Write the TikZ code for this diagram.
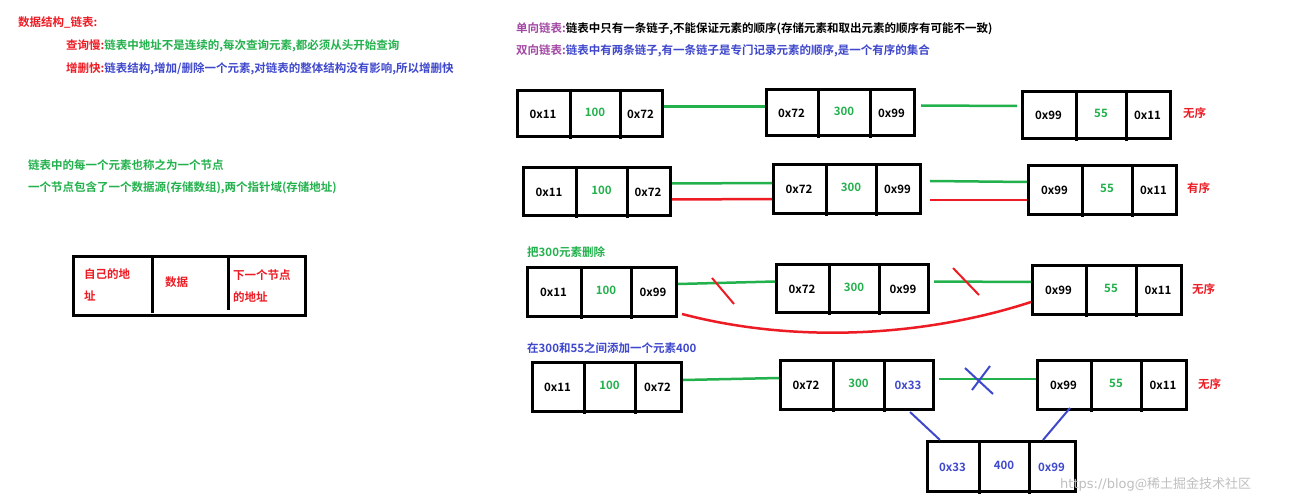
\documentclass[tikz,border=0pt]{standalone}
\usepackage{fontspec}
\newfontfamily\cjk{Noto Sans CJK SC}[BoldFont={Noto Sans CJK SC Bold}]
\usetikzlibrary{calc}
\definecolor{cr}{HTML}{ED1C24}
\definecolor{cg}{HTML}{22B14C}
\definecolor{cb}{HTML}{3F48CC}
\definecolor{cp}{HTML}{A349A4}
\tikzset{
  lbl/.style={anchor=west,inner sep=0pt,font=\cjk\bfseries\fontsize{11.5}{12}\selectfont},
  cell/.style={inner sep=0pt,font=\cjk\bfseries\fontsize{11.5}{12}\selectfont},
  gl/.style={draw=cg,line width=2.5pt},
  rl/.style={draw=cr,line width=2.5pt},
  bl/.style={draw=cb,line width=2pt},
}
\newcommand\lbox[7]{%
  \node[draw,line width=3pt,inner sep=0pt,minimum width={#5-#2},minimum height={#7-#6},anchor=north west] (#1) at (#2,#6) {};
  \draw[line width=3pt] (#3,#6) -- (#3,#7+4) (#4,#6) -- (#4,#7+4);
  \coordinate (#1c1) at ({(#2+#3)/2},{(#6+#7)/2});
  \coordinate (#1c2) at ({(#3+#4)/2},{(#6+#7)/2});
  \coordinate (#1c3) at ({(#4+#5)/2},{(#6+#7)/2});
}
\newcommand\ltxt[4]{%
  \node[cell] (#1t1) at ($(#1c1)+(0,2)$) {#2};
  \node[cell] (#1t2) at ($(#1c2)+(0,0)$) {#3};
  \node[cell] (#1t3) at ($(#1c3)+(0,2)$) {#4};
}
\begin{document}
\begin{tikzpicture}[x=1pt,y=-1pt]
\useasboundingbox[fill=white] (0,0) rectangle (1294,500);
\node[lbl,text=cr] (t1) at (18,22) {数据结构\_链表:};
\node[lbl] (t2) at (66,46) {\textcolor{cr}{查询慢:}\textcolor{cg}{链表中地址不是连续的,每次查询元素,都必须从头开始查询}};
\node[lbl] (t3) at (66,69) {\textcolor{cr}{增删快:}\textcolor{cb}{链表结构,增加/删除一个元素,对链表的整体结构没有影响,所以增删快}};
\node[lbl,text=cg] (t4) at (28,165) {链表中的每一个元素也称之为一个节点};
\node[lbl,text=cg] (t5) at (28,188) {一个节点包含了一个数据源(存储数组),两个指针域(存储地址)};
\node[draw,line width=3pt,inner sep=0pt,minimum width=232,minimum height=59,anchor=north west] (leg) at (72,255) {};
\draw[line width=3pt] (152,257) -- (152,313) (228,257) -- (228,310);
\node[lbl,text=cr,align=left,font=\cjk\bfseries\fontsize{11.5}{22}\selectfont] (lg1) at (84,285) {自己的地\\址};
\node[lbl,text=cr] (lg2) at (165,282) {数据};
\node[lbl,text=cr,align=left,font=\cjk\bfseries\fontsize{11.5}{22}\selectfont] (lg3) at (233,286) {下一个节点\\的地址};
\node[lbl] (h1) at (516,29) {\textcolor{cp}{单向链表:}链表中只有一条链子,不能保证元素的顺序(存储元素和取出元素的顺序有可能不一致)};
\node[lbl] (h2) at (516,51) {\textcolor{cp}{双向链表:}\textcolor{cb}{链表中有两条链子,有一条链子是专门记录元素的顺序,是一个有序的集合}};
% row 1
\lbox{a1}{516}{570}{620}{661}{89}{135}\ltxt{a1}{0x11}{\textcolor{cg}{100}}{0x72}
\lbox{a2}{765}{818}{870}{913}{88}{134}\ltxt{a2}{0x72}{\textcolor{cg}{300}}{0x99}
\lbox{a3}{1021}{1076}{1126}{1169}{90}{137}\ltxt{a3}{0x99}{\textcolor{cg}{55}}{0x11}
\draw[gl] ([yshift=7]a1.east) -- ([yshift=6]a2.west);
\draw[gl] ([xshift=5,yshift=7]a2.east) -- ([xshift=-4,yshift=9]a3.west);
\node[lbl,text=cr] (n1) at (1183,113) {无序};
% row 2
\lbox{b1}{522}{576}{627}{669}{166}{214}\ltxt{b1}{0x11}{\textcolor{cg}{100}}{0x72}
\lbox{b2}{772}{826}{876}{919}{163}{212}\ltxt{b2}{0x72}{\textcolor{cg}{300}}{0x99}
\lbox{b3}{1027}{1082}{1132}{1175}{164}{213}\ltxt{b3}{0x99}{\textcolor{cg}{55}}{0x11}
\draw[gl] ([yshift=8]b1.east) -- ([yshift=6]b2.west);
\draw[gl] ([xshift=8,yshift=8]b2.east) -- ([yshift=8]b3.west);
\draw[rl] ([yshift=-8]b1.east) -- ([yshift=-10]b2.west);
\draw[rl] ([xshift=8,yshift=-11]b2.east) -- ([yshift=-10]b3.west);
\node[lbl,text=cr] (n2) at (1187,188) {有序};
% row 3
\node[lbl,text=cg] (r3) at (527,252) {把300元素删除};
\lbox{c1}{526}{581}{631}{675}{266}{315}\ltxt{c1}{0x11}{\textcolor{cg}{100}}{0x99}
\lbox{c2}{775}{829}{879}{927}{263}{311}\ltxt{c2}{0x72}{\textcolor{cg}{300}}{0x99}
\lbox{c3}{1031}{1086}{1136}{1180}{264}{313}\ltxt{c3}{0x99}{\textcolor{cg}{55}}{0x11}
\draw[gl] ([yshift=8]c1.east) -- ([yshift=7]c2.west);
\draw[gl] ([xshift=4,yshift=7]c2.east) -- ([yshift=8]c3.west);
\coordinate (x1a) at (712,278); \coordinate (x1b) at (734,304);
\coordinate (x2a) at (953,268); \coordinate (x2b) at (979,295);
\draw[draw=cr,line width=2pt] (x1a) -- (x1b) (x2a) -- (x2b);
\draw[rl] ([xshift=4,yshift=-22]c1.east) .. controls (800,345) and (930,335) .. ([yshift=-12]c3.west);
\node[lbl,text=cr] (n3) at (1192,289) {无序};
% row 4
\node[lbl,text=cb] (r4) at (527,348) {在300和55之间添加一个元素400};
\lbox{d1}{531}{584}{635}{680}{361}{410}\ltxt{d1}{0x11}{\textcolor{cg}{100}}{0x72}
\lbox{d2}{779}{833}{884}{932}{359}{408}\ltxt{d2}{0x72}{\textcolor{cg}{300}}{\textcolor{cb}{0x33}}
\lbox{d3}{1036}{1091}{1141}{1185}{359}{408}\ltxt{d3}{0x99}{\textcolor{cg}{55}}{0x11}
\lbox{d4}{926}{979}{1029}{1074}{440}{490}\ltxt{d4}{\textcolor{cb}{0x33}}{\textcolor{cb}{400}}{\textcolor{cb}{0x99}}
\draw[gl] ([yshift=7]d1.east) -- ([yshift=7]d2.west);
\draw[gl] ([xshift=4,yshift=6]d2.east) -- ([yshift=6]d3.west);
\coordinate (y1a) at (965,368); \coordinate (y1b) at (993,394);
\coordinate (y2a) at (990,366); \coordinate (y2b) at (972,390);
\draw[bl] (y1a) -- (y1b) (y2a) -- (y2b);
\draw[bl] (910,412) -- ([xshift=14]d4.north west);
\draw[bl] (1070,408) -- (1043,440);
\node[lbl,text=cr] (n4) at (1198,384) {无序};
\node[lbl,text=black!25,font=\fontspec{DejaVu Sans}\fontsize{13}{14}\selectfont] (wm) at (1060,484) {https://blog\cjk @稀土掘金技术社区};
\end{tikzpicture}
\end{document}
